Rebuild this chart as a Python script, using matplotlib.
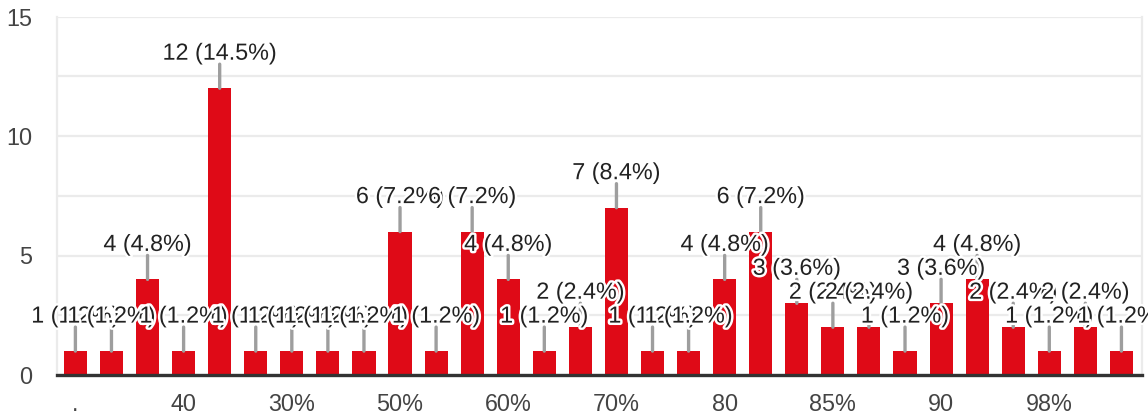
import matplotlib
matplotlib.use("Agg")
import matplotlib.pyplot as plt
import matplotlib.patheffects as pe

# ---- data ----
counts = [1, 1, 4, 1, 12, 1, 1, 1, 1, 6, 1, 6, 4, 1, 2,
          7, 1, 1, 4, 6, 3, 2, 2, 1, 3, 4, 2, 1, 2, 1]
shown_tick_labels = [".", "40", "30%", "50%", "60%", "70%", "80", "85%", "90", "98%"]
tick_step = 3
y_ticks = [0, 5, 10, 15]

total = sum(counts)
labels = [f"{v} ({v / total * 100:.1f}%)" for v in counts]

plt.rcParams['font.family'] = ['Liberation Sans', 'DejaVu Sans']

W, H = 1148, 418
fig = plt.figure(figsize=(W / 100, H / 100), dpi=100)
left, right, top, bottom = 57, 1142, 16.5, 375
ax = fig.add_axes([left / W, 1 - bottom / H, (right - left) / W, (bottom - top) / H])

x = list(range(len(counts)))
ax.bar(x, counts, width=0.64, color="#DF0A17", zorder=2)

ax.set_xlim(-0.51, len(counts) - 0.43)
ax.set_ylim(0, 15)

# gridlines
ax.set_yticks(y_ticks)
ax.set_yticks([2.5, 7.5, 12.5], minor=True)
ax.grid(axis='y', which='both', color='#ebebeb', lw=1.6, zorder=0)
ax.tick_params(axis='y', which='both', length=0, pad=18, labelsize=16.8, labelcolor='#444444')

tick_pos = list(range(0, len(counts), tick_step))[:len(shown_tick_labels)]
ax.set_xticks(tick_pos)
ax.set_xticklabels(shown_tick_labels)
ax.tick_params(axis='x', length=0, pad=13, labelsize=16.8, labelcolor='#444444')

for s in ['left', 'right']:
    ax.spines[s].set_color('#ebebeb')
    ax.spines[s].set_linewidth(1.6)
ax.spines['top'].set_visible(False)
ax.spines['bottom'].set_color('#333333')
ax.spines['bottom'].set_linewidth(2.4)
ax.spines['bottom'].set_zorder(5)

# leader lines
for i, v in enumerate(counts):
    ax.annotate('', xy=(i, v), xytext=(0, 17.3), textcoords='offset points',
                arrowprops=dict(arrowstyle='-', color='#9e9e9e', lw=2.4,
                                shrinkA=0, shrinkB=0), zorder=3, annotation_clip=False)

# labels
for i, (v, t) in enumerate(zip(counts, labels)):
    ax.annotate(t, xy=(i, v), xytext=(0, 25.2), textcoords='offset points',
                ha='center', va='center', fontsize=16.8, color='#222222',
                zorder=4, annotation_clip=False,
                path_effects=[pe.withStroke(linewidth=3.5, foreground='white')])

fig.savefig("out.png", dpi=100)
